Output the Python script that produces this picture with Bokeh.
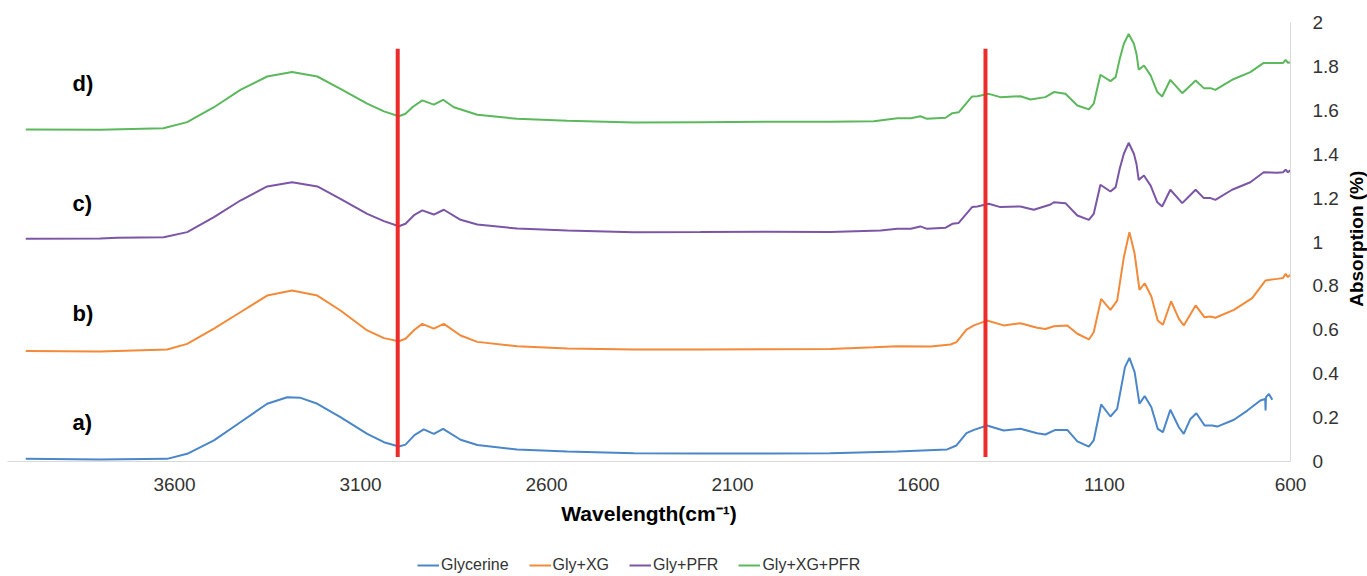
import math
from bokeh.plotting import figure
from bokeh.layouts import column, row
from bokeh.models import Range1d, FixedTicker, Legend, LegendItem
from bokeh.core.properties import value
from bokeh.embed import file_html
from bokeh.resources import INLINE

# ---------------- data ----------------
series_names = ["Glycerine", "Gly+XG", "Gly+PFR", "Gly+XG+PFR"]
series_colors = ["#4A86C8", "#F28A3A", "#7B55A6", "#5CB85C"]
panel_tags = ["a)", "b)", "c)", "d)"]
tag_wn = 3874
tag_abs = [0.178, 0.674, 1.175, 1.722]

marker_wn = [3000, 1420]
marker_abs = [0.02, 1.88]

x_ticks = [3600, 3100, 2600, 2100, 1600, 1100, 600]
y_ticks = [0, 0.2, 0.4, 0.6, 0.8, 1, 1.2, 1.4, 1.6, 1.8, 2]
y_tick_labels = ["0", "0.2", "0.4", "0.6", "0.8", "1", "1.2", "1.4", "1.6", "1.8", "2"]
x_title = "Wavelength(cm\u207b\u00b9)"
y_title = "Absorption (%)"

gly_wn = [4000, 3800, 3620, 3566, 3494, 3423, 3351, 3297, 3261, 3216, 3154, 3082, 3037, 2997, 2979,
          2955, 2930, 2903, 2878, 2831, 2786, 2679, 2544, 2365, 2186, 2007, 1837, 1657, 1523, 1498,
          1471, 1451, 1416, 1371, 1326, 1281, 1259, 1232, 1200, 1173, 1142, 1129, 1109, 1084, 1066,
          1045, 1033, 1019, 1006, 992, 974, 957, 943, 923, 900, 887, 869, 853, 831, 810, 797, 752,
          716, 681, 668, 667, 666, 658, 649]
gly_abs = [0.012, 0.009, 0.012, 0.035, 0.096, 0.179, 0.263, 0.293, 0.290, 0.263, 0.202, 0.126, 0.088, 0.068, 0.077,
           0.120, 0.146, 0.126, 0.149, 0.099, 0.075, 0.055, 0.045, 0.038, 0.036, 0.037, 0.038, 0.046, 0.055, 0.073,
           0.129, 0.144, 0.164, 0.141, 0.149, 0.129, 0.123, 0.144, 0.144, 0.092, 0.068, 0.096, 0.260, 0.205, 0.240,
           0.430, 0.472, 0.407, 0.263, 0.298, 0.247, 0.149, 0.134, 0.236, 0.156, 0.126, 0.194, 0.220, 0.164, 0.164, 0.159, 0.190,
           0.232, 0.278, 0.285, 0.232, 0.293, 0.308, 0.281]

xg_wn = [4000, 3800, 3620, 3566, 3494, 3423, 3351, 3284, 3216, 3154, 3082, 3037, 2997, 2979, 2955,
         2934, 2903, 2876, 2831, 2786, 2679, 2544, 2365, 2186, 2007, 1837, 1720, 1657, 1567, 1514,
         1498, 1471, 1451, 1416, 1371, 1326, 1281, 1259, 1236, 1200, 1173, 1142, 1129, 1109, 1084,
         1066, 1048, 1033, 1019, 1006, 992, 974, 957, 943, 921, 900, 887, 855, 831, 815, 802, 752,
         703, 667, 636, 620, 613, 607, 600]
xg_abs = [0.503, 0.501, 0.510, 0.536, 0.605, 0.680, 0.756, 0.779, 0.756, 0.688, 0.597, 0.562, 0.548, 0.559, 0.600,
          0.627, 0.605, 0.627, 0.574, 0.545, 0.525, 0.515, 0.510, 0.510, 0.511, 0.513, 0.520, 0.525, 0.524, 0.533,
          0.544, 0.601, 0.620, 0.642, 0.620, 0.630, 0.609, 0.604, 0.616, 0.620, 0.582, 0.556, 0.589, 0.741, 0.691,
          0.733, 0.931, 1.045, 0.946, 0.782, 0.812, 0.752, 0.642, 0.623, 0.730, 0.650, 0.620, 0.711, 0.657, 0.661, 0.655, 0.691,
          0.744, 0.825, 0.832, 0.836, 0.855, 0.840, 0.851]

pfr_wn = [4000, 3800, 3754, 3629, 3566, 3494, 3423, 3351, 3284, 3216, 3154, 3082, 3037, 2997, 2979,
          2955, 2934, 2903, 2876, 2831, 2786, 2679, 2544, 2365, 2186, 2007, 1837, 1702, 1657, 1621,
          1595, 1577, 1527, 1509, 1492, 1456, 1442, 1411, 1380, 1326, 1290, 1245, 1236, 1205, 1173,
          1142, 1129, 1111, 1084, 1070, 1059, 1048, 1035, 1021, 1014, 1008, 994, 976, 958, 945, 923,
          891, 855, 833, 815, 802, 757, 708, 672, 636, 620, 613, 607, 600]
pfr_abs = [1.015, 1.016, 1.019, 1.022, 1.045, 1.113, 1.189, 1.253, 1.272, 1.253, 1.197, 1.128, 1.095, 1.072, 1.083,
           1.124, 1.144, 1.125, 1.147, 1.101, 1.080, 1.061, 1.052, 1.044, 1.045, 1.047, 1.045, 1.052, 1.060, 1.060,
           1.071, 1.060, 1.065, 1.083, 1.087, 1.159, 1.162, 1.174, 1.159, 1.162, 1.147, 1.171, 1.181, 1.177, 1.121,
           1.101, 1.128, 1.261, 1.230, 1.250, 1.335, 1.402, 1.452, 1.402, 1.355, 1.283, 1.303, 1.257, 1.181, 1.162, 1.238,
           1.177, 1.238, 1.200, 1.200, 1.192, 1.238, 1.272, 1.318, 1.315, 1.318, 1.329, 1.318, 1.326]

all_wn = [4000, 3800, 3630, 3566, 3494, 3423, 3351, 3284, 3216, 3154, 3082, 3037, 2997, 2979, 2960,
          2934, 2903, 2878, 2849, 2786, 2679, 2544, 2365, 2186, 2007, 1837, 1720, 1657, 1621, 1595,
          1577, 1527, 1509, 1492, 1456, 1442, 1411, 1380, 1326, 1299, 1259, 1236, 1205, 1173, 1142,
          1129, 1111, 1084, 1070, 1059, 1048, 1035, 1021, 1014, 1008, 994, 976, 958, 945, 923, 891,
          855, 833, 815, 802, 757, 708, 672, 636, 620, 613, 607, 600]
all_abs = [1.513, 1.511, 1.518, 1.546, 1.614, 1.693, 1.754, 1.774, 1.754, 1.698, 1.630, 1.595, 1.573, 1.584, 1.615,
           1.645, 1.626, 1.648, 1.614, 1.580, 1.561, 1.552, 1.544, 1.546, 1.548, 1.548, 1.550, 1.564, 1.564, 1.573,
           1.561, 1.566, 1.587, 1.591, 1.663, 1.664, 1.675, 1.660, 1.664, 1.649, 1.660, 1.683, 1.675, 1.622, 1.604,
           1.630, 1.762, 1.733, 1.751, 1.835, 1.903, 1.948, 1.903, 1.857, 1.785, 1.804, 1.759, 1.683, 1.663, 1.739, 1.678,
           1.736, 1.701, 1.701, 1.693, 1.739, 1.774, 1.816, 1.816, 1.816, 1.830, 1.816, 1.819]

series_wn = [gly_wn, xg_wn, pfr_wn, all_wn]
series_abs = [gly_abs, xg_abs, pfr_abs, all_abs]

# ---------------- main figure ----------------
FONT = "Liberation Sans"

p = figure(width=1345, height=540,
           x_range=Range1d(4049, 600), y_range=Range1d(0, 2),
           y_axis_location="right",
           output_backend="svg", toolbar_location=None,
           min_border_left=7, min_border_top=22, min_border_right=55, min_border_bottom=79)
p.outline_line_color = None
p.xgrid.visible = False
p.ygrid.visible = False
p.background_fill_color = "white"
p.border_fill_color = "white"

for wn, ab, col in zip(series_wn, series_abs, series_colors):
    p.line(wn, ab, line_color=col, line_width=2)

# vertical red markers
for w in marker_wn:
    p.segment(x0=[w], y0=[marker_abs[0]], x1=[w], y1=[marker_abs[1]],
              line_color="#EE2B2B", line_width=4)

# panel tags
p.text(x=[tag_wn] * len(panel_tags), y=tag_abs, text=panel_tags,
       text_font=value(FONT), text_font_style="bold", text_font_size="22px",
       text_color="black", text_align="left", text_baseline="middle")

# x axis
xa = p.xaxis[0]
xa.ticker = FixedTicker(ticks=x_ticks)
xa.axis_line_color = "#D9D9D9"
xa.major_tick_line_color = None
xa.minor_tick_line_color = None
xa.major_tick_out = 0
xa.major_tick_in = 0
xa.minor_tick_out = 0
xa.minor_tick_in = 0
xa.major_label_text_font = FONT
xa.major_label_text_font_size = "19px"
xa.major_label_text_color = "#333333"
xa.major_label_standoff = 16
xa.axis_label = x_title
xa.axis_label_text_font = FONT
xa.axis_label_text_font_style = "bold"
xa.axis_label_text_font_size = "21px"
xa.axis_label_text_color = "black"
xa.axis_label_standoff = 8

# y axis (right)
ya = p.yaxis[0]
ya.ticker = FixedTicker(ticks=y_ticks)
ya.major_label_overrides = {t: s for t, s in zip(y_ticks, y_tick_labels)}
ya.axis_line_color = "#D9D9D9"
ya.major_tick_line_color = None
ya.minor_tick_line_color = None
ya.major_tick_out = 0
ya.major_tick_in = 0
ya.minor_tick_out = 0
ya.minor_tick_in = 0
ya.major_label_text_font = FONT
ya.major_label_text_font_size = "19px"
ya.major_label_text_color = "#333333"
ya.major_label_standoff = 22

# ---------------- y-axis title strip (reads bottom to top) ----------------
yt = figure(width=22, height=540, x_range=Range1d(0, 22), y_range=Range1d(0, 540),
            x_axis_location=None, y_axis_location=None,
            output_backend="svg", toolbar_location=None,
            min_border_left=0, min_border_right=0, min_border_top=0, min_border_bottom=0)
yt.outline_line_color = None
yt.xgrid.visible = False
yt.ygrid.visible = False
yt.text(x=[11], y=[274], text=[y_title], angle=math.pi / 2,
        text_font=value(FONT), text_font_style="bold", text_font_size="19px",
        text_color="black", text_align="center", text_baseline="middle")

# ---------------- legend strip ----------------
lg = figure(width=1367, height=36, x_range=Range1d(0, 1), y_range=Range1d(0, 1),
            x_axis_location=None, y_axis_location=None,
            output_backend="svg", toolbar_location=None,
            min_border_left=0, min_border_right=0, min_border_top=0, min_border_bottom=0)
lg.outline_line_color = None
lg.xgrid.visible = False
lg.ygrid.visible = False
# off-screen proxies that only give the legend its line samples
lg_renderers = [lg.line(x=[5, 6], y=[5, 5], line_color=c, line_width=2) for c in series_colors]
items = [LegendItem(label=n, renderers=[r]) for n, r in zip(series_names, lg_renderers)]
legend = Legend(items=items, orientation="horizontal", location=(417, 1),
                label_text_font=FONT, label_text_font_size="16px", label_text_color="#333333",
                glyph_width=22, glyph_height=20, label_standoff=2, spacing=20,
                label_height=20, padding=0, margin=0,
                border_line_color=None, background_fill_alpha=0)
lg.add_layout(legend, "center")

layout = column(row(p, yt, spacing=0), lg, spacing=0)
open("out.html", "w").write(file_html(layout, INLINE))
